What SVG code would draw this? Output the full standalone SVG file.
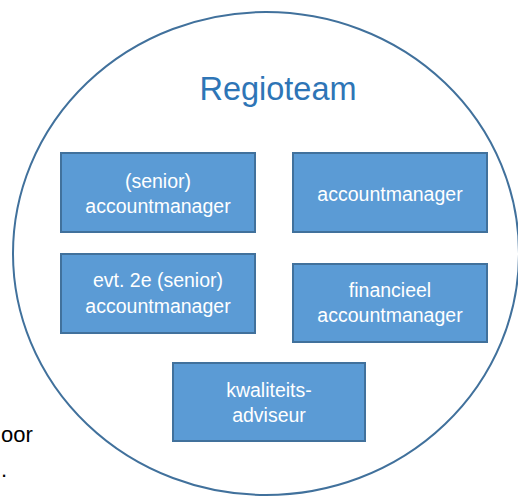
<svg xmlns="http://www.w3.org/2000/svg" width="518" height="496" viewBox="0 0 518 496">
<style>
.box{fill:#5B9BD5;stroke:#41719C;stroke-width:2}
.lbl{font-family:"Liberation Sans",Arial,sans-serif;font-size:19.5px;fill:#FFFFFF;text-anchor:middle}
.title{font-family:"Liberation Sans",Arial,sans-serif;font-size:32.5px;fill:#2E75B6;text-anchor:middle}
.bg{font-family:"Liberation Sans",Arial,sans-serif;font-size:22px;fill:#000000}
</style>
<rect width="518" height="496" fill="#FFFFFF"/>
<g id="background-text">
<text class="bg" x="1" y="442">oor</text>
<text class="bg" x="1" y="477">.</text>
</g>
<g id="regioteam">
<ellipse cx="266" cy="253.5" rx="253" ry="241.5" fill="#FFFFFF" stroke="#41719C" stroke-width="2"/>
<text class="title" x="278" y="100">Regioteam</text>
</g>
<g id="connectors"></g>
<g id="senior-accountmanager">
<rect class="box" x="61" y="153" width="194" height="79"/>
<text class="lbl" x="158" y="188">(senior)</text>
<text class="lbl" x="158" y="213">accountmanager</text>
</g>
<g id="accountmanager">
<rect class="box" x="293" y="153" width="194" height="79"/>
<text class="lbl" x="390" y="201">accountmanager</text>
</g>
<g id="evt-2e-senior-accountmanager">
<rect class="box" x="61" y="254" width="194" height="79"/>
<text class="lbl" x="158" y="287">evt. 2e (senior)</text>
<text class="lbl" x="158" y="313">accountmanager</text>
</g>
<g id="financieel-accountmanager">
<rect class="box" x="293" y="264" width="194" height="78"/>
<text class="lbl" x="390" y="297">financieel</text>
<text class="lbl" x="390" y="322">accountmanager</text>
</g>
<g id="kwaliteitsadviseur">
<rect class="box" x="173" y="363" width="192" height="78"/>
<text class="lbl" x="269" y="397">kwaliteits-</text>
<text class="lbl" x="269" y="422">adviseur</text>
</g>
</svg>
